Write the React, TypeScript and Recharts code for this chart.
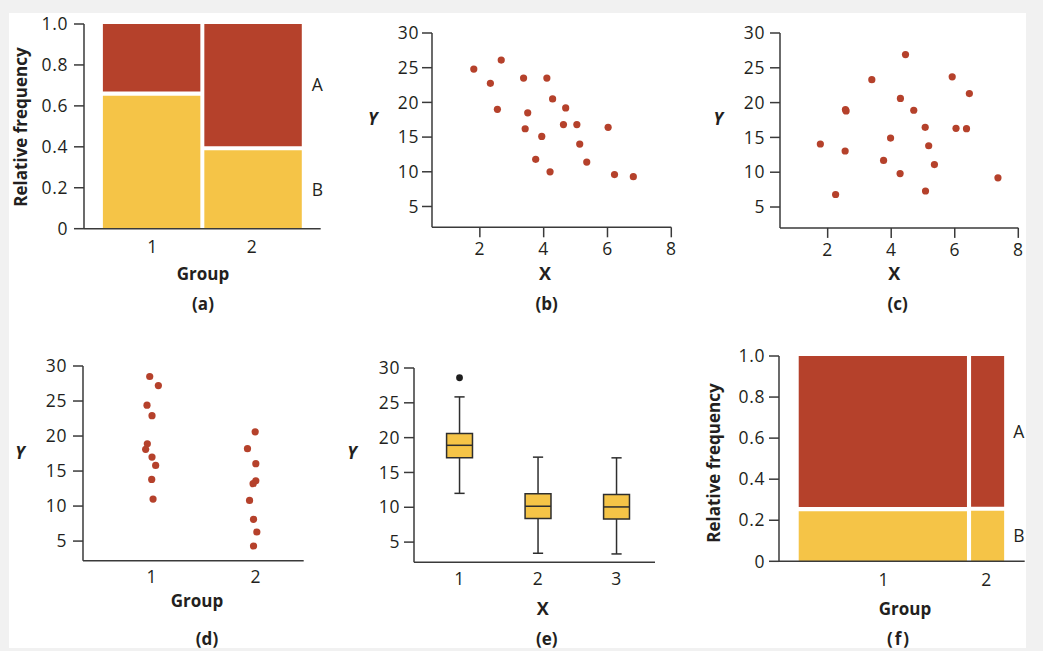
import React from 'react';
import {
  ComposedChart,
  ScatterChart,
  Scatter,
  XAxis,
  YAxis,
  ReferenceArea,
  ReferenceLine,
} from 'recharts';

// ---------------- data ----------------
// (a) mosaic plot: share of observations in each group, proportion of category B
const mosaicAGroups = ['1', '2'];
const mosaicAWidths = [0.5, 0.5];
const mosaicAPropB = [0.66, 0.393];

// (f) mosaic plot
const mosaicFGroups = ['1', '2'];
const mosaicFWidths = [0.829, 0.171];
const mosaicFPropB = [0.254, 0.256];

const freqTicks = [0, 0.2, 0.4, 0.6, 0.8, 1.0];
const yTicks = [5, 10, 15, 20, 25, 30];
const xTicks = [2, 4, 6, 8];

// (b) scatter, negative association
const bX = [1.81, 2.33, 2.67, 2.55, 3.37, 3.5, 3.42, 3.94, 3.75, 4.1, 4.28, 4.2, 4.69, 4.62, 5.04, 5.13, 5.35, 6.02, 6.22, 6.81];
const bY = [24.8, 22.75, 26.1, 19.0, 23.5, 18.5, 16.2, 15.1, 11.8, 23.5, 20.5, 10.0, 19.2, 16.8, 16.8, 14.0, 11.4, 16.4, 9.6, 9.3];

// (c) scatter, no association
const cX = [1.77, 2.25, 2.55, 2.56, 2.58, 3.39, 3.76, 3.98, 4.28, 4.29, 4.45, 4.71, 5.07, 5.18, 5.08, 5.36, 5.92, 6.04, 6.37, 6.46, 7.36];
const cY = [14.05, 6.8, 13.05, 19.0, 18.8, 23.3, 11.7, 14.9, 9.8, 20.6, 26.9, 18.9, 16.45, 13.8, 7.3, 11.1, 23.7, 16.3, 16.25, 21.3, 9.2];

// (d) strip chart (jittered group positions)
const dGroup1X = [0.981, 1.064, 0.955, 1.003, 0.958, 0.942, 1.003, 1.038, 1.0, 1.013];
const dGroup1Y = [28.5, 27.2, 24.4, 22.9, 18.9, 18.1, 17.0, 15.8, 13.8, 11.0];
const dGroup2X = [1.994, 1.92, 2.0, 2.0, 1.974, 1.94, 1.978, 2.01, 1.978];
const dGroup2Y = [20.6, 18.2, 16.05, 13.6, 13.2, 10.8, 8.1, 6.3, 4.3];
const dGroupTicks = [1, 2];

// (e) box plots
const eGroups = [1, 2, 3];
const eMin = [12.0, 3.4, 3.3];
const eQ1 = [17.1, 8.4, 8.3];
const eMedian = [18.9, 10.15, 10.05];
const eQ3 = [20.6, 11.95, 11.85];
const eMax = [25.85, 17.2, 17.1];
const eOutlierX = [1];
const eOutlierY = [28.6];

// ---------------- styles ----------------
const RED = '#b5412b';
const YELLOW = '#f5c447';
const AXIS_COLOR = '#3a3a3a';
const TEXT_COLOR = '#231f20';
const FONT = '"Open Sans", "Noto Sans", Arial, sans-serif';
const TICK_FONT = 17.5;

const YW = 60;
const XH = 40;
const PAD = 22;
const GAP = 0.01;

type Rect = { L: number; T: number; R: number; B: number };

function chartBox(r: Rect) {
  const left = r.L - YW - PAD;
  const top = r.T - PAD;
  const width = r.R + PAD - left;
  const height = r.B + XH + PAD - top;
  return { left, top, width, height, margin: { top: PAD, right: PAD, bottom: PAD, left: PAD } };
}

const tickStyle = { fill: TEXT_COLOR, fontSize: TICK_FONT, fontFamily: FONT, letterSpacing: 0.6 };
const axisLineStyle = { stroke: AXIS_COLOR, strokeWidth: 1.5 };

const RA: Rect = { L: 84, T: 24, R: 320.7, B: 228.7 };
const RB: Rect = { L: 431.7, T: 33.3, R: 671, B: 227.6 };
const RC: Rect = { L: 780, T: 33.3, R: 1018.3, B: 228.2 };
const RD: Rect = { L: 83.3, T: 366, R: 304, B: 560.7 };
const RE: Rect = { L: 414.3, T: 367.7, R: 655.3, B: 562 };
const RF: Rect = { L: 779.3, T: 356, R: 1025, B: 561.3 };

const freqFormat = (v: number) => (v === 0 ? '0' : v.toFixed(1));
const emptyShape = () => <g />;

function Mosaic({ rect, widths, propB, groups, xDomain, labelOffset, xTickMargin, yTickMargin }: any) {
  const box = chartBox(rect);
  const cells: any[] = [];
  const centers: number[] = [];
  let start = 0;
  widths.forEach((w: number, i: number) => {
    const x1 = start + (i > 0 ? GAP : 0);
    const x2 = start + w - (i < widths.length - 1 ? GAP : 0);
    centers.push(start + w / 2);
    const last = i === widths.length - 1;
    cells.push({ key: `B${i}`, x1, x2, y1: 0, y2: propB[i] - GAP, fill: YELLOW, label: last ? 'B' : null });
    cells.push({ key: `A${i}`, x1, x2, y1: propB[i] + GAP, y2: 1, fill: RED, label: last ? 'A' : null });
    start += w;
  });
  const data = centers.map((c, i) => ({ x: c, y: propB[i], group: groups[i] }));
  return (
    <div style={{ position: 'absolute', left: box.left, top: box.top }}>
      <ComposedChart width={box.width} height={box.height} margin={box.margin} data={data}>
        <XAxis
          type="number"
          dataKey="x"
          domain={xDomain}
          ticks={centers}
          interval={0}
          tickFormatter={(v: number) => groups[centers.indexOf(v)] ?? ''}
          tickLine={false}
          tickSize={0}
          tickMargin={xTickMargin}
          axisLine={axisLineStyle}
          tick={tickStyle}
          height={XH}
        />
        <YAxis
          type="number"
          dataKey="y"
          domain={[0, 1]}
          ticks={freqTicks}
          interval={0}
          tickFormatter={freqFormat}
          tickSize={10}
          tickMargin={yTickMargin}
          tickLine={axisLineStyle}
          axisLine={axisLineStyle}
          tick={tickStyle}
          width={YW}
        />
        <Scatter data={data} dataKey="y" shape={emptyShape} isAnimationActive={false} legendType="none" />
        {cells.map((c) => (
          <ReferenceArea
            key={c.key}
            x1={c.x1}
            x2={c.x2}
            y1={c.y1}
            y2={c.y2}
            fill={c.fill}
            fillOpacity={1}
            stroke="none"
            label={
              c.label
                ? { value: c.label, position: 'right', offset: labelOffset, fill: TEXT_COLOR, fontSize: 17.5, fontFamily: FONT }
                : undefined
            }
          />
        ))}
      </ComposedChart>
    </div>
  );
}

const dot = (color: string, r: number) => (props: any) =>
  <circle cx={props.cx} cy={props.cy} r={r} fill={color} />;

function ScatterPanel({ rect, series, xDomain, yDomain, xTickValues, xTickLine, xTickMargin, yTickMargin }: any) {
  const box = chartBox(rect);
  return (
    <div style={{ position: 'absolute', left: box.left, top: box.top }}>
      <ScatterChart width={box.width} height={box.height} margin={box.margin}>
        <XAxis
          type="number"
          dataKey="x"
          domain={xDomain}
          ticks={xTickValues}
          interval={0}
          tickLine={xTickLine ? axisLineStyle : false}
          tickSize={xTickLine ? 10 : 0}
          tickMargin={xTickMargin}
          axisLine={axisLineStyle}
          tick={tickStyle}
          height={XH}
        />
        <YAxis
          type="number"
          dataKey="y"
          domain={yDomain}
          ticks={yTicks}
          interval={0}
          tickSize={10}
          tickMargin={yTickMargin}
          tickLine={axisLineStyle}
          axisLine={axisLineStyle}
          tick={tickStyle}
          width={YW}
        />
        {series.map((s: any, i: number) => (
          <Scatter key={i} data={s} shape={dot(RED, 3.6)} isAnimationActive={false} />
        ))}
      </ScatterChart>
    </div>
  );
}

function BoxPanel({ rect }: { rect: Rect }) {
  const box = chartBox(rect);
  const halfBox = 0.165;
  const halfCap = 0.065;
  const data = eGroups.map((g, i) => ({ x: g, min: eMin[i], q1: eQ1[i], median: eMedian[i], q3: eQ3[i], max: eMax[i] }));
  const outliers = eOutlierX.map((x, i) => ({ x, y: eOutlierY[i] }));
  const lineStyle = { stroke: '#2e2e2e', strokeWidth: 1.5 };
  return (
    <div style={{ position: 'absolute', left: box.left, top: box.top }}>
      <ComposedChart width={box.width} height={box.height} margin={box.margin} data={data}>
        <XAxis
          type="number"
          dataKey="x"
          domain={[0.42, 3.49]}
          ticks={eGroups}
          interval={0}
          tickLine={false}
          tickSize={0}
          tickMargin={10}
          axisLine={axisLineStyle}
          tick={tickStyle}
          height={XH}
        />
        <YAxis
          type="number"
          domain={[2.1, 30]}
          ticks={yTicks}
          interval={0}
          tickSize={10}
          tickMargin={4}
          tickLine={axisLineStyle}
          axisLine={axisLineStyle}
          tick={tickStyle}
          width={YW}
        />
        {data.map((d) => (
          <ReferenceLine key={`wu${d.x}`} segment={[{ x: d.x, y: d.q3 }, { x: d.x, y: d.max }]} {...lineStyle} />
        ))}
        {data.map((d) => (
          <ReferenceLine key={`wl${d.x}`} segment={[{ x: d.x, y: d.min }, { x: d.x, y: d.q1 }]} {...lineStyle} />
        ))}
        {data.map((d) => (
          <ReferenceLine key={`cu${d.x}`} segment={[{ x: d.x - halfCap, y: d.max }, { x: d.x + halfCap, y: d.max }]} {...lineStyle} />
        ))}
        {data.map((d) => (
          <ReferenceLine key={`cl${d.x}`} segment={[{ x: d.x - halfCap, y: d.min }, { x: d.x + halfCap, y: d.min }]} {...lineStyle} />
        ))}
        {data.map((d) => (
          <ReferenceArea
            key={`b${d.x}`}
            x1={d.x - halfBox}
            x2={d.x + halfBox}
            y1={d.q1}
            y2={d.q3}
            fill={YELLOW}
            fillOpacity={1}
            stroke="#2e2e2e"
            strokeWidth={1.5}
          />
        ))}
        {data.map((d) => (
          <ReferenceLine key={`m${d.x}`} segment={[{ x: d.x - halfBox, y: d.median }, { x: d.x + halfBox, y: d.median }]} {...lineStyle} />
        ))}
        <Scatter data={outliers} dataKey="y" shape={dot('#1e1e1e', 3.4)} isAnimationActive={false} />
      </ComposedChart>
    </div>
  );
}

type T = { text: string; x: number; y: number; bold?: boolean; italic?: boolean; rotate?: boolean; size?: number; spacing?: number };
const texts: T[] = [
  { text: 'Relative frequency', x: 20, y: 127, bold: true, rotate: true },
  { text: 'Group', x: 203, y: 273, bold: true },
  { text: '(a)', x: 203, y: 303, bold: true },
  { text: 'Y', x: 372.7, y: 118, bold: true, italic: true },
  { text: 'X', x: 545, y: 273, bold: true, size: 18 },
  { text: '(b)', x: 546.7, y: 303, bold: true },
  { text: 'Y', x: 718.3, y: 118, bold: true, italic: true },
  { text: 'X', x: 894.3, y: 273, bold: true, size: 18 },
  { text: '(c)', x: 897.7, y: 303, bold: true },
  { text: 'Y', x: 20, y: 452, bold: true, italic: true },
  { text: 'Group', x: 197, y: 600, bold: true },
  { text: '(d)', x: 207, y: 638, bold: true },
  { text: 'Y', x: 352, y: 452, bold: true, italic: true },
  { text: 'X', x: 542.7, y: 608, bold: true, size: 18 },
  { text: '(e)', x: 546.7, y: 638, bold: true },
  { text: 'Relative frequency', x: 713.3, y: 463, bold: true, rotate: true },
  { text: 'Group', x: 905, y: 608, bold: true },
  { text: '(f)', x: 899, y: 638, bold: true, spacing: 2 },
];

export default function App() {
  const bData = bX.map((x, i) => ({ x, y: bY[i] }));
  const cData = cX.map((x, i) => ({ x, y: cY[i] }));
  const d1 = dGroup1X.map((x, i) => ({ x, y: dGroup1Y[i] }));
  const d2 = dGroup2X.map((x, i) => ({ x, y: dGroup2Y[i] }));
  return (
    <div style={{ position: 'absolute', left: 0, top: 0, width: 1043, height: 651, background: '#f1f1f1', fontFamily: FONT, overflow: 'hidden' }}>
      <div style={{ position: 'absolute', left: 9, top: 13, width: 1017, height: 635, background: '#ffffff' }} />
      <Mosaic rect={RA} widths={mosaicAWidths} propB={mosaicAPropB} groups={mosaicAGroups} xDomain={[-0.095, 1.095]} labelOffset={10} xTickMargin={12} yTickMargin={6} />
      <ScatterPanel rect={RB} series={[bData]} xDomain={[0.5, 8]} yDomain={[2, 30]} xTickValues={xTicks} xTickLine xTickMargin={5} yTickMargin={3} />
      <ScatterPanel rect={RC} series={[cData]} xDomain={[0.5, 8]} yDomain={[2, 30]} xTickValues={xTicks} xTickLine xTickMargin={6} yTickMargin={5} />
      <ScatterPanel rect={RD} series={[d1, d2]} xDomain={[0.34, 2.46]} yDomain={[2.2, 30]} xTickValues={dGroupTicks} xTickLine={false} xTickMargin={10} yTickMargin={6} />
      <BoxPanel rect={RE} />
      <Mosaic rect={RF} widths={mosaicFWidths} propB={mosaicFPropB} groups={mosaicFGroups} xDomain={[-0.096, 1.1]} labelOffset={9} xTickMargin={12} yTickMargin={4} />
      {texts.map((t, i) => (
        <div
          key={i}
          style={{
            position: 'absolute',
            left: t.x,
            top: t.y,
            transform: `translate(-50%, -50%)${t.rotate ? ' rotate(-90deg)' : ''}`,
            whiteSpace: 'nowrap',
            lineHeight: 1,
            fontSize: t.size ?? 17,
            fontWeight: t.bold ? 700 : 400,
            fontStyle: t.italic ? 'italic' : 'normal',
            letterSpacing: t.spacing ?? 0,
            color: TEXT_COLOR,
            fontFamily: FONT,
          }}
        >
          {t.text}
        </div>
      ))}
    </div>
  );
}
